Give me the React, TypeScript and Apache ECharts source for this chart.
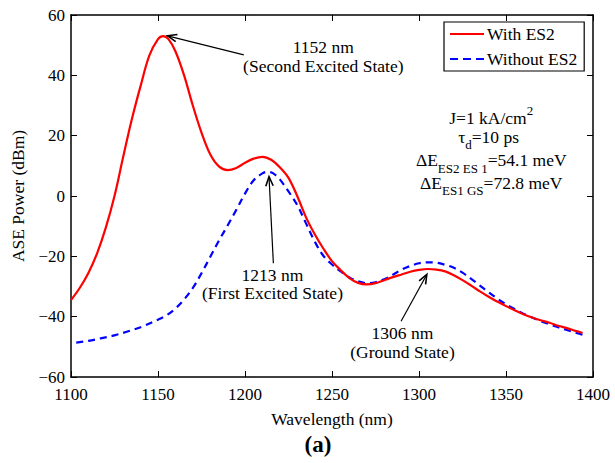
import React, { useEffect, useRef } from "react";
import * as echarts from "echarts";

// With ES2 (red, solid)
const redX = [1100, 1105, 1110, 1115, 1120, 1125, 1130, 1135, 1140, 1145, 1150, 1153, 1156, 1160, 1165, 1170, 1175, 1180, 1185, 1190, 1195, 1200, 1205, 1210, 1215, 1220, 1225, 1230, 1235, 1240, 1245, 1250, 1255, 1260, 1265, 1270, 1275, 1280, 1285, 1290, 1295, 1300, 1305, 1310, 1315, 1320, 1325, 1330, 1335, 1340, 1345, 1350, 1355, 1360, 1365, 1370, 1375, 1380, 1385, 1390, 1394];
const redY = [-34.5, -30.5, -25.5, -19, -10.5, 0, 13, 25.5, 36.5, 46.5, 52, 53, 52, 48, 40, 30, 21, 13.8, 9.8, 8.6, 9.3, 11, 12.4, 13, 12, 9.5, 6, 0, -7, -12.6, -17.4, -21.6, -24.6, -27.2, -28.8, -29.3, -28.9, -27.9, -26.9, -26, -25.1, -24.5, -24.2, -24.4, -25, -26.3, -27.9, -29.7, -31.6, -33.4, -35, -36.5, -37.9, -39.2, -40.3, -41.2, -42, -43, -43.8, -44.7, -45.4];

// Without ES2 (blue, dashed)
const blueX = [1103, 1110, 1117, 1125, 1132, 1140, 1150, 1155, 1160, 1165, 1170, 1175, 1180, 1185, 1190, 1195, 1200, 1205, 1210, 1213, 1216, 1220, 1225, 1230, 1235, 1240, 1245, 1250, 1255, 1260, 1265, 1270, 1275, 1280, 1285, 1290, 1295, 1300, 1305, 1310, 1315, 1320, 1325, 1330, 1335, 1340, 1345, 1350, 1355, 1360, 1365, 1370, 1375, 1380, 1385, 1390, 1394];
const blueY = [-48.6, -48, -47.2, -46.2, -45, -43.5, -41, -39.5, -37.3, -34.3, -30.5, -25.6, -20.2, -14.8, -9.8, -4.6, 0.8, 5.2, 7.5, 8, 7.6, 5.5, 1.5, -3, -9, -15, -19.8, -22.7, -25, -27, -28.3, -28.9, -28.6, -27.6, -26.1, -24.4, -23.2, -22.3, -22, -22.1, -22.8, -23.8, -25.4, -27.5, -29.7, -31.9, -34, -35.9, -37.5, -39, -40.3, -41.5, -42.5, -43.5, -44.4, -45.3, -46];

const seriesNames = ["With ES2", "Without ES2"];

// Annotation arrows (data coordinates): tail -> tip
const arrowTails = [[1199.3, 46.8], [1216.3, -22.3], [1289.7, -41.5]];
const arrowTips = [[1155.5, 53.1], [1213.8, 6.4], [1304.5, -26]];

// Annotation labels (data coordinates of centre of the two-line block)
const annTexts = ["1152 nm\n(Second Excited State)", "1213 nm\n(First Excited State)", "1306 nm\n(Ground State)"];
const annPos = [[1245, 46.2], [1215.8, -29.1], [1290.5, -48.6]];

// Parameter block (rich text), centre positions in data coordinates
const paramTexts = [
  "J=1 kA/cm{sup|2}",
  "τ{sub|d}=10 ps",
  "ΔE{sub|ES2 ES 1}=54.1 meV",
  "ΔE{sub|ES1 GS}=72.8 meV",
];
const paramPos = [[1341.5, 25.9], [1340, 19.7], [1341.5, 11.9], [1341.5, 4.4]];

const FONT = "'Liberation Serif', 'Times New Roman', serif";
const FS = 17.5;
const TICK_FS = 17;

export default function App() {
  const ref = useRef<HTMLDivElement>(null);
  useEffect(() => {
    if (!ref.current) return;
    document.body.style.margin = "0";
    const chart = echarts.init(ref.current, null, { renderer: "svg" });
    const axisLine = { show: true, onZero: false, lineStyle: { color: "#000", width: 1.5 } };
    const axisTick = { show: true, inside: true, length: 6, lineStyle: { color: "#000", width: 1 } };
    const minusFmt = (v: number) => String(v).replace("-", "\u2212");
    const option: any = {
      animation: false,
      backgroundColor: "#fff",
      grid: { left: 71, right: 22, top: 15, bottom: 86, containLabel: false },
      legend: {
        data: [
          { name: seriesNames[0], icon: "path://M0,0h34v2.2h-34z" },
          { name: seriesNames[1], icon: "path://M0,0h8v2.2h-8z M13,0h8v2.2h-8z M26,0h8v2.2h-8z" },
        ],
        orient: "vertical",
        left: 444,
        top: 22,
        itemWidth: 34,
        itemHeight: 2.2,
        itemGap: 7,
        padding: [3, 7, 3, 6],
        borderColor: "#000",
        borderWidth: 1.2,
        borderRadius: 0,
        backgroundColor: "#fff",
        textStyle: { color: "#000", fontSize: FS, fontFamily: FONT, padding: [0, 0, 0, -2] },
      },
      xAxis: [
        {
          type: "value", min: 1100, max: 1400, interval: 50, position: "bottom",
          axisLine, axisTick, splitLine: { show: false },
          axisLabel: { color: "#000", fontSize: TICK_FS, fontFamily: FONT, margin: 9, formatter: (v: number) => String(v) },
          name: "Wavelength (nm)", nameLocation: "middle", nameGap: 33,
          nameTextStyle: { color: "#000", fontSize: FS, fontFamily: FONT },
        },
        {
          type: "value", min: 1100, max: 1400, interval: 50, position: "top",
          axisLine, axisTick, splitLine: { show: false }, axisLabel: { show: false },
        },
      ],
      yAxis: [
        {
          type: "value", min: -60, max: 60, interval: 20, position: "left",
          axisLine, axisTick, splitLine: { show: false },
          axisLabel: { color: "#000", fontSize: TICK_FS, fontFamily: FONT, margin: 6, formatter: minusFmt },
          name: "ASE Power (dBm)", nameLocation: "middle", nameGap: 44,
          nameTextStyle: { color: "#000", fontSize: FS, fontFamily: FONT },
        },
        {
          type: "value", min: -60, max: 60, interval: 20, position: "right",
          axisLine, axisTick, splitLine: { show: false }, axisLabel: { show: false },
        },
      ],
      series: [
        {
          name: seriesNames[0], type: "line", xAxisIndex: 0, yAxisIndex: 0,
          data: redX.map((x, i) => [x, redY[i]]),
          showSymbol: false, symbol: "none", smooth: 0.35,
          lineStyle: { color: "#ff0000", width: 2.2 },
          itemStyle: { color: "#ff0000" },
          z: 3,
        },
        {
          name: seriesNames[1], type: "line", xAxisIndex: 0, yAxisIndex: 0,
          data: blueX.map((x, i) => [x, blueY[i]]),
          showSymbol: false, symbol: "none", smooth: 0.35,
          lineStyle: { color: "#0000ff", width: 2.2, type: [7, 5] },
          itemStyle: { color: "#0000ff" },
          z: 2,
        },
      ],
    };
    chart.setOption(option);

    const toPx = (p: number[]) => chart.convertToPixel({ xAxisIndex: 0, yAxisIndex: 0 }, p) as number[];
    const graphics: any[] = [];
    arrowTails.forEach((t, i) => {
      const a = toPx(t);
      const b = toPx(arrowTips[i]);
      graphics.push({
        type: "line", silent: true, z: 10,
        shape: { x1: a[0], y1: a[1], x2: b[0], y2: b[1] },
        style: { stroke: "#000", lineWidth: 1.2 },
      });
      const ang = Math.atan2(a[1] - b[1], a[0] - b[0]);
      const L = 10, w = 0.38;
      graphics.push({
        type: "polyline", silent: true, z: 10,
        shape: {
          points: [
            [b[0] + L * Math.cos(ang + w), b[1] + L * Math.sin(ang + w)],
            [b[0], b[1]],
            [b[0] + L * Math.cos(ang - w), b[1] + L * Math.sin(ang - w)],
          ],
        },
        style: { stroke: "#000", lineWidth: 1.6, fill: null },
      });
    });
    annTexts.forEach((t, i) => {
      const p = toPx(annPos[i]);
      graphics.push({
        type: "text", silent: true, z: 10, x: p[0], y: p[1],
        style: { text: t, fill: "#000", fontSize: FS, fontFamily: FONT, lineHeight: 18.5, align: "center", verticalAlign: "middle" },
      });
    });
    paramTexts.forEach((t, i) => {
      const p = toPx(paramPos[i]);
      graphics.push({
        type: "text", silent: true, z: 10, x: p[0], y: p[1],
        style: {
          text: t, fill: "#000", fontSize: FS, fontFamily: FONT, lineHeight: 20,
          align: "center", verticalAlign: "middle",
          rich: {
            sub: { fontSize: 13, fontFamily: FONT, lineHeight: 13, padding: [16, 0, 0, 0], fill: "#000" },
            sup: { fontSize: 13, fontFamily: FONT, lineHeight: 13, padding: [0, 0, 14, 0], fill: "#000" },
          },
        },
      });
    });
    graphics.push({
      type: "text", silent: true, z: 10, x: 318, y: 444,
      style: { text: "(a)", fill: "#000", font: `bold 23px ${FONT}`, align: "center", verticalAlign: "middle" },
    });
    chart.setOption({ graphic: graphics });

    return () => chart.dispose();
  }, []);
  return <div ref={ref} style={{ width: 615, height: 463 }} />;
}
